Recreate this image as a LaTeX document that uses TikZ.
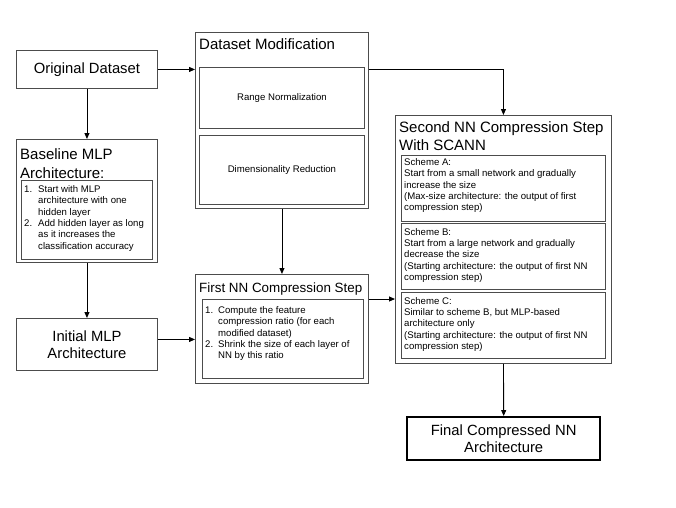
\documentclass[tikz,border=0pt]{standalone}
\usepackage{fontspec}
\setmainfont{Liberation Sans}
\usetikzlibrary{arrows.meta, positioning, calc}
\tikzset{
  box/.style={draw=black!70, line width=0.9pt, inner sep=0pt, anchor=north west},
  bigtext/.style={font=\fontsize{14.8}{16.5}\selectfont, align=center},
  titletext/.style={font=\fontsize{15}{18.5}\selectfont, align=left, inner sep=0pt, anchor=north west},
  smalltext/.style={font=\fontsize{9.6}{11.3}\selectfont, align=left, inner sep=0pt, anchor=north west},
  flow/.style={-{Triangle[length=6pt,width=5pt]}, line width=0.9pt},
}
\begin{document}
\begin{tikzpicture}[x=1pt, y=-1pt]
\useasboundingbox (0,0) rectangle (676,507);

% Left column
\node[box, bigtext, minimum width=141, minimum height=38] (orig) at (16,50) {Original Dataset};
\node[box, minimum width=141, minimum height=123] (base) at (16,139) {};
\node[titletext] (basetitle) at (20,148) {Baseline MLP\\[0.5pt]Architecture:};
\node[box, minimum width=131, minimum height=79] (baseinner) at (21,180) {};
\node[smalltext] (baselist) at ($(baseinner.north west)+(3,4.5)$) {%
  \begin{tabular}{@{}l@{\hspace{6pt}}l@{}}
  1. & Start with MLP\\
     & architecture with one\\
     & hidden layer\\
  2. & Add hidden layer as long\\
     & as it increases the\\
     & classification accuracy
  \end{tabular}};
\node[box, bigtext, minimum width=141, minimum height=52] (init) at (16,318) {Initial MLP\\Architecture};

% Middle column
\node[box, minimum width=173, minimum height=176] (dsmod) at (195,32) {};
\node[titletext] (dsmodtitle) at (199,38.5) {Dataset Modification};
\node[box, smalltext, anchor=north west, align=center, minimum width=165, minimum height=61] (range) at (199,67) {Range Normalization};
\node[box, smalltext, anchor=north west, align=center, minimum width=165, minimum height=69] (dimred) at (199,135) {Dimensionality Reduction};
\node[box, minimum width=173, minimum height=109] (first) at (195,274) {};
\node[titletext, font=\fontsize{13.4}{16}\selectfont] (firsttitle) at (199,282.5) {First NN Compression Step};
\node[box, minimum width=161, minimum height=79] (firstinner) at (202,299) {};
\node[smalltext] (firstlist) at ($(firstinner.north west)+(3,6.5)$) {%
  \begin{tabular}{@{}l@{\hspace{5pt}}l@{}}
  1. & Compute the feature\\
     & compression ratio (for each\\
     & modified dataset)\\
  2. & Shrink the size of each layer of\\
     & NN by this ratio
  \end{tabular}};

% Right column
\node[box, minimum width=216, minimum height=248] (second) at (395,115) {};
\node[titletext] (secondtitle) at (399,121) {Second NN Compression Step\\With SCANN};
\node[box, minimum width=204, minimum height=66] (schemea) at (401,155) {};
\node[smalltext] at ($(schemea.north west)+(3,3.5)$) {Scheme A:\\Start from a small network and gradually\\increase the size\\(Max-size architecture: the output of first\\compression step)};
\node[box, minimum width=204, minimum height=66] (schemeb) at (401,223) {};
\node[smalltext] at ($(schemeb.north west)+(3,5)$) {Scheme B:\\Start from a large network and gradually\\decrease the size\\(Starting architecture: the output of first NN\\compression step)};
\node[box, minimum width=204, minimum height=66] (schemec) at (401,292) {};
\node[smalltext] at ($(schemec.north west)+(3,5)$) {Scheme C:\\Similar to scheme B, but MLP-based\\architecture only\\(Starting architecture: the output of first NN\\compression step)};
\node[box, bigtext, draw=black, line width=2.4pt, minimum width=193, minimum height=43] (final) at (406,416) {Final Compressed NN\\Architecture};

% Arrows
\draw[flow] (orig.east) -- (orig.east -| dsmod.west);
\draw[flow] (orig.east -| dsmod.east) -| (second.north);
\draw[flow] (orig.south) -- (base.north);
\draw[flow] (base.south) -- (init.north);
\draw[flow] ([yshift=5pt]init.east) -- ([yshift=5pt]init.east -| first.west);
\draw[flow] (dsmod.south) -- (first.north);
\draw[flow] (first.east |- firstinner.north) -- (second.west |- firstinner.north);
\draw[flow] (second.south) -- (final.north);
\end{tikzpicture}
\end{document}
